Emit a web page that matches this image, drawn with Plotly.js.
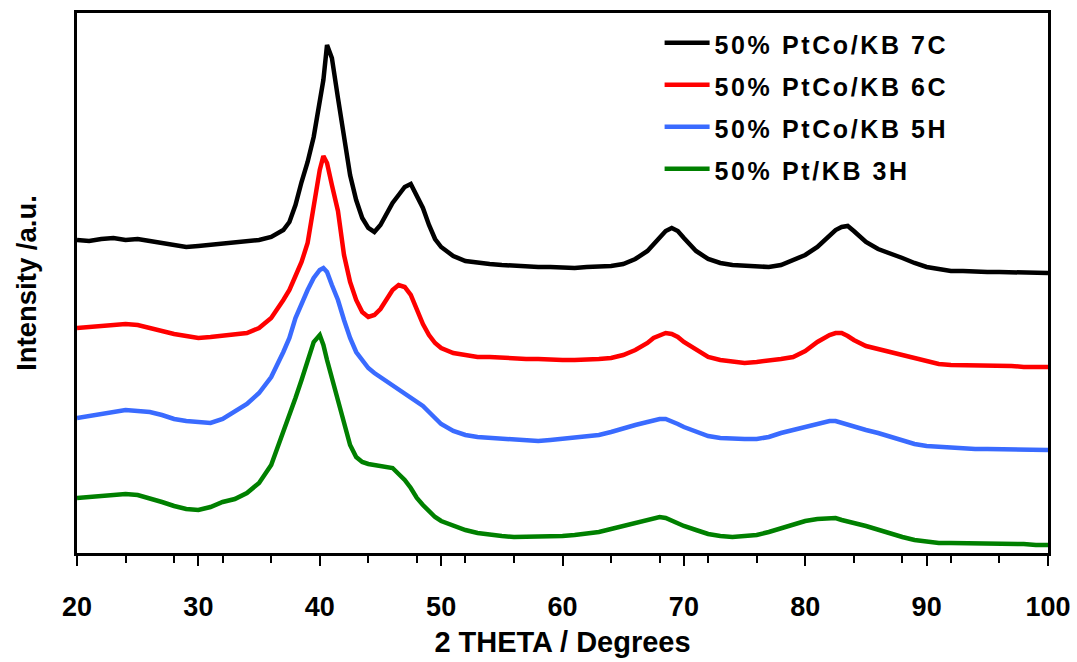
<!DOCTYPE html>
<html>
<head>
<meta charset="utf-8">
<script src="https://cdn.plot.ly/plotly-3.0.1.min.js"></script>
<style>html,body{margin:0;padding:0;background:#fff;}#chart{width:1077px;height:662px;}
.legendtext{letter-spacing:2.6px;}</style>
</head>
<body>
<div id="chart"></div>
<script>
// 2-theta positions (degrees)
var twoTheta = [20,21,22,23,24,25,26,27,28,29,30,31,32,33,34,35,36,37,37.5,38,38.5,39,39.5,40,40.3,40.6,41,41.5,42,42.5,43,43.5,44,44.5,45,45.5,46,46.5,47,47.5,48,48.5,49,49.5,50,51,52,53,54,55,56,57,58,59,60,61,62,63,64,65,66,67,67.5,68,68.5,69,69.5,70,71,72,73,74,75,76,77,78,79,80,81,82,82.5,83,83.5,84,85,86,87,88,89,90,91,92,93,94,95,96,97,98,99,100];

// Intensities (a.u., offset stacked as in the figure)
var ptco7C = [313,312,314,315,313,314,312,310,309,306,307,308,309,310,312,313,316,323,331,348,371,391,416,448,473,508,495,455,413,378,353,335,325,321,328,339,350,358,366,369,358,345,328,314,306,297,292,290,289,288,287,287,286,286,285,285,286,286,287,289,294,302,309,316,322,325,322,315,302,294,290,288,287,286,286,288,293,298,306,317,323,326,327,322,311,304,300,295,290,286,284,282,282,281,281,281,281,281,281,280];
var ptco6C = [225,226,227,228,229,228,225,221,219,217,215,216,217,219,220,225,235,253,263,277,291,310,346,383,397,390,368,342,298,271,253,241,236,238,244,253,263,268,266,258,243,229,218,210,205,200,198,196,196,195,195,194,194,193,193,193,193,194,195,198,203,210,215,218,220,219,216,211,203,196,193,191,190,191,192,194,196,202,211,218,220,220,217,213,207,204,201,198,194,191,189,188,188,187,187,187,187,186,186,186];
var ptco5H = [135,137,139,141,143,142,141,138,134,132,131,130,134,141,149,160,176,201,215,235,250,263,275,283,285,281,268,253,233,215,201,193,185,180,176,172,167,163,160,155,151,147,141,135,129,122,118,116,115,114,113,112,112,113,114,115,116,118,121,125,128,131,133,134,134,132,129,126,121,117,115,114,114,114,116,120,123,126,129,132,132,130,128,126,123,120,116,112,109,107,106,105,105,104,104,104,104,104,104,103];
var pt3H = [55,56,57,58,59,58,55,51,47,44,43,46,51,54,60,70,88,120,138,155,173,193,211,218,208,193,175,153,128,108,96,91,89,88,88,87,85,79,73,65,55,48,42,36,32,27,23,20,18,17,16,16,16,16,17,18,19,21,24,27,30,33,35,36,35,32,30,27,23,19,17,16,17,18,21,25,28,32,34,35,35,33,32,30,27,23,19,16,13,11,10,10,10,10,10,9,9,9,8,8];

var seriesNames = ['50% PtCo/KB 7C','50% PtCo/KB 6C','50% PtCo/KB 5H','50% Pt/KB 3H'];
var seriesData = [ptco7C, ptco6C, ptco5H, pt3H];
var seriesColors = ['#000000','#ff0000','#3a6bff','#008000'];
var majorTicks = [20,30,40,50,60,70,80,90,100];
var minorTicks = [24,28,32,36,44,48,52,56,64,68,72,76,84,88,92,96];

var FONT = 'Liberation Sans, Arial, sans-serif';
var traces = seriesNames.map(function(n,i){
  return {x: twoTheta, y: seriesData[i], name: '<span style="font-size:25px">' + n + '</span>',
          type: 'scatter', mode: 'lines', line: {color: seriesColors[i], width: 4.5}};
});

var layout = {
  width: 1077, height: 662,
  margin: {l: 77, r: 29, t: 13, b: 109},
  paper_bgcolor: '#fff', plot_bgcolor: '#fff',
  showlegend: true,
  legend: {x: 0.6, y: 0.993, xanchor: 'left', yanchor: 'top', itemwidth: 45,
           font: {family: FONT, size: 30, color: '#000', weight: 700},
           bgcolor: 'rgba(0,0,0,0)', tracegroupgap: 0},
  xaxis: {
    range: [20, 100], tickmode: 'array', tickvals: majorTicks,
    showgrid: false, zeroline: false,
    showline: true, linecolor: '#000', linewidth: 3, mirror: true,
    ticks: 'outside', ticklen: 10, tickwidth: 2, tickcolor: '#000',
    ticklabelstandoff: 18,
    minor: {tickmode: 'array', tickvals: minorTicks, ticks: 'outside', ticklen: 7, tickwidth: 2, tickcolor: '#000', showgrid: false},
    tickfont: {family: FONT, size: 27, color: '#000', weight: 700},
    title: {text: '2 THETA / Degrees', font: {family: FONT, size: 29, color: '#000', weight: 700}, standoff: 11}
  },
  yaxis: {
    range: [0, 540], showgrid: false, zeroline: false,
    showline: true, linecolor: '#000', linewidth: 3, mirror: true,
    ticks: '', showticklabels: false,
    title: {text: 'Intensity /a.u.', font: {family: FONT, size: 27.5, color: '#000', weight: 700}, standoff: 30}
  }
};

Plotly.newPlot('chart', traces, layout, {displayModeBar: false, staticPlot: true});
</script>
</body>
</html>
